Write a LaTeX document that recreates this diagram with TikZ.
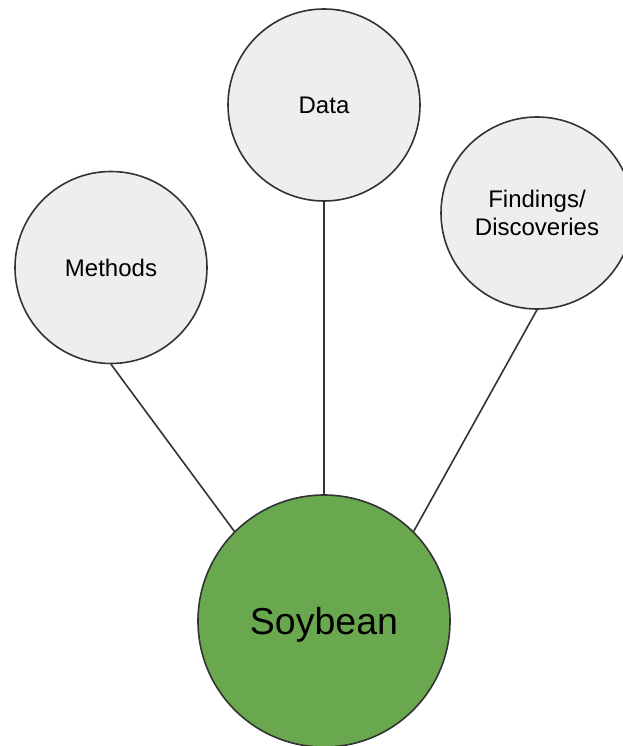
\documentclass[tikz,border=0pt]{standalone}
\usepackage{fontspec}
\setmainfont{Liberation Sans}
\definecolor{edgegray}{HTML}{333333}
\definecolor{bubblefill}{HTML}{EEEEEE}
\definecolor{leafgreen}{HTML}{6AA84F}
\begin{document}
\begin{tikzpicture}[x=1pt,y=-1pt,
  bubble/.style={circle, draw=edgegray, line width=1.6pt, fill=bubblefill,
    minimum size=192pt, inner sep=0pt, align=center, text depth=0pt,
    font=\fontsize{24}{27.7}\selectfont},
  hub/.style={circle, draw=edgegray, line width=1.6pt, fill=leafgreen,
    minimum size=252pt, inner sep=0pt, text depth=0pt,
    font=\fontsize{37.5}{44}\selectfont},
  link/.style={draw=edgegray, line width=1.6pt}]
  \useasboundingbox (0,0) rectangle (622,746);
  % central topic and its three branches
  \node[hub] (soy) at (324,621) {Soybean};
  \node[bubble] (methods) at (111,267.5) {Methods};
  \node[bubble] (data) at (324,105) {Data};
  \node[bubble] (findings) at (537,213) {Findings/\\Discoveries};
  % spokes
  \draw[link] (methods.-90) -- (soy.135);
  \draw[link] (data.-90) -- (soy.90);
  \draw[link] (findings.-90) -- (soy.45);
\end{tikzpicture}
\end{document}
